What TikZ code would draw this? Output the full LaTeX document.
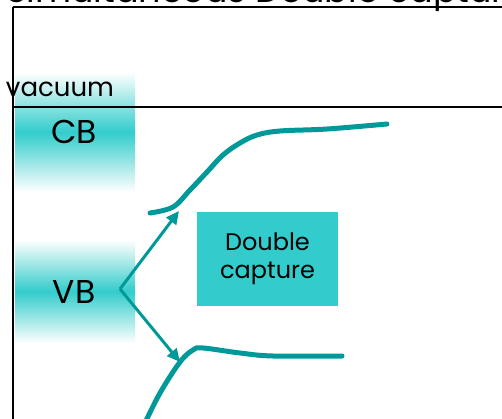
\documentclass[tikz,border=0pt]{standalone}
\usepackage{fontspec}
\setmainfont{Poppins}
\usetikzlibrary{arrows.meta}
\definecolor{teal1}{HTML}{009999}
\definecolor{turq}{HTML}{33CCCC}
\tikzset{
  band/.style={top color=white, bottom color=white, middle color=turq},
  lbl/.style={inner sep=0pt, text=black},
  curve/.style={draw=teal1, line width=5pt, line cap=round},
  jump/.style={draw=teal1, line width=3pt, -{Triangle[length=13pt,width=12pt]}},
  frame/.style={draw=black, line width=1.5pt},
  boxstyle/.style={fill=turq, inner sep=0pt, minimum width=141pt, minimum height=94pt, align=center, font=\fontsize{24}{28}\selectfont}
}
\begin{document}
\begin{tikzpicture}[x=1pt,y=-1pt]
\useasboundingbox (0,0) rectangle (502,419);
\begin{scope}
\clip (0,0) rectangle (502,419);
% title (clipped at top, as in the reference)
\node[lbl, anchor=base west, font=\fontsize{35}{37}\selectfont] (title) at (6,3) {Simultaneous Double capture};
% bands
\shade[band] (15,72) rectangle (135,192);
\shade[band] (15,240) rectangle (135,343);
% frame lines
\draw[frame] (13,7) -- (502,7);
\draw[frame] (13,7) -- (13,419);
\draw[draw=black, line width=2pt] (12,107) -- (502,107);
% labels
\node[lbl, anchor=base, font=\fontsize{26}{28}\selectfont] (vac) at (60,97) {vacuum};
\node[lbl, font=\fontsize{33}{35}\selectfont] (cb) at (74,132) {CB};
\node[lbl, font=\fontsize{33}{35}\selectfont] (vb) at (74,292) {VB};
% box
\node[boxstyle] (dc) at (267.5,259) {Double\\capture};
% curves
\draw[curve] plot[smooth, tension=0.6] coordinates {(150,213) (173,207) (190,190) (207,172) (223,155) (240,143) (257,135) (280,131) (327,129) (387,124)};
\draw[curve] plot[smooth, tension=0.6] coordinates {(144,425) (160,393) (180,362) (193,350) (203,348) (240,353) (273,356) (342,356)};
% arrows
\coordinate (o) at (120,289);
\coordinate (up) at (179,211);
\coordinate (dn) at (180,362);
\draw[jump] (o) -- (up);
\draw[jump] (o) -- (dn);
\end{scope}
\end{tikzpicture}
\end{document}
